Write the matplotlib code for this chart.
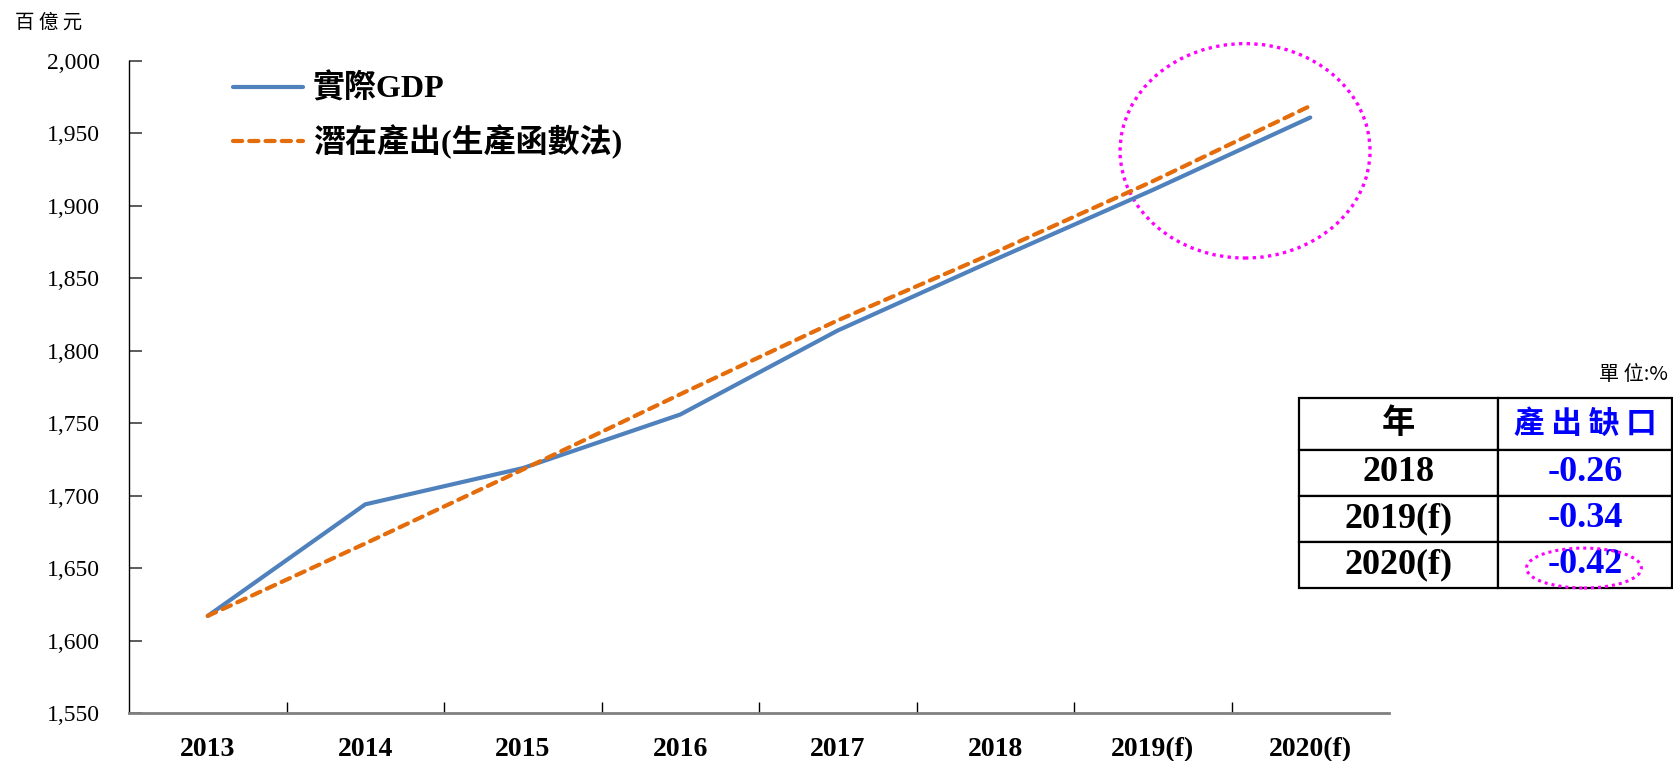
import matplotlib.pyplot as plt
from matplotlib.patches import Ellipse
from matplotlib.ticker import FuncFormatter

years = ["2013", "2014", "2015", "2016", "2017", "2018", "2019(f)", "2020(f)"]
real_gdp = [1617, 1694, 1719, 1756, 1814, 1863, 1911, 1961]
potential = [1617, 1667, 1718, 1770, 1821, 1868, 1917, 1969]

table_years = ["2018", "2019(f)", "2020(f)"]
output_gap = [-0.26, -0.34, -0.42]

BLUE = "#4F81BD"
ORANGE = "#E46C0A"
MAGENTA = "#FF00FF"
SERIF = ["Liberation Serif", "Noto Sans CJK TC"]
CJK = ["Noto Sans CJK TC", "DejaVu Sans"]

W, H = 1673, 761
fig = plt.figure(figsize=(W / 100, H / 100), dpi=100)
ax = fig.add_axes([129 / W, 48 / H, 1260 / W, 652 / H])

x = list(range(len(years)))
ax.plot(x, real_gdp, color=BLUE, lw=3, solid_capstyle="round", label="實際GDP")
ax.plot(x, potential, color=ORANGE, lw=3, dashes=(2.2, 1.7),
        dash_capstyle="round", label="潛在產出(生產函數法)")

ax.set_xlim(-0.5, len(years) - 0.5)
ax.set_ylim(1550, 2000)
ax.set_yticks(range(1550, 2001, 50))
ax.yaxis.set_major_formatter(FuncFormatter(lambda v, _: f"{v:,.0f}"))
ax.tick_params(axis="y", direction="in", length=9, width=1.2, color="#404040",
               pad=21, labelsize=17)
for lab in ax.get_yticklabels():
    lab.set_fontfamily("Liberation Serif")

# category boundaries as ticks, labels at category centres
ax.set_xticks([i + 0.5 for i in x[:-1]])
ax.set_xticklabels([])
ax.set_xticks(x, minor=True)
ax.set_xticklabels(years, minor=True, fontfamily="Liberation Serif",
                   fontweight="bold", fontsize=20)
ax.tick_params(axis="x", which="major", direction="in", length=8, width=1,
               color="#000000")
ax.tick_params(axis="x", which="minor", length=0, pad=17)

ax.spines["top"].set_visible(False)
ax.spines["right"].set_visible(False)
ax.spines["left"].set_linewidth(1.0)
ax.spines["bottom"].set_color("#808080")
ax.spines["bottom"].set_linewidth(2.0)

ax.legend(loc="upper left", bbox_to_anchor=(0.0825, 0.981), frameon=False,
          handlelength=2.2, handletextpad=0.3, labelspacing=0.62,
          borderpad=0, borderaxespad=0,
          prop={"family": SERIF, "weight": "bold", "size": 23})

# highlight around the forecast years
ax.add_patch(Ellipse((6.586, 1938), 1.587, 148, fill=False, ec=MAGENTA, lw=2.4,
                     ls=(0, (1, 1.3)), clip_on=False))

fig.text(15 / W, 1 - 22 / H, "百 億 元", ha="left", va="center", fontsize=14,
         fontfamily=CJK)
fig.text(1668 / W, 1 - 375 / H, "單 位:%", ha="right", va="center", fontsize=14.5,
         fontfamily=CJK)

# output gap table
ax_t = fig.add_axes([1299 / W, (H - 588) / H, 373 / W, 190 / H])
ax_t.axis("off")
cells = [[y, f"{g:.2f}"] for y, g in zip(table_years, output_gap)]
tbl = ax_t.table(cellText=cells, colLabels=["年", "產 出 缺 口"],
                 colWidths=[0.533, 0.467], cellLoc="center", bbox=[0, 0, 1, 1])
tbl.auto_set_font_size(False)
for (r, c), cell in tbl.get_celld().items():
    cell.set_edgecolor("black")
    cell.set_linewidth(1.6)
    cell.set_height(0.272 if r == 0 else 0.243)
    txt = cell.get_text()
    colour = "#0000FF" if c == 1 else "black"
    if r == 0:
        txt.set_fontfamily(CJK)
        txt.set_fontsize(24 if c == 0 else 22)
    else:
        txt.set_fontfamily("Liberation Serif")
        txt.set_fontsize(26)
    txt.set_fontweight("bold")
    txt.set_color(colour)

ax_t.add_patch(Ellipse((0.764, 0.105), 0.308, 0.21, transform=ax_t.transAxes,
                       fill=False, ec=MAGENTA, lw=2.2, ls=(0, (1, 1.3)),
                       clip_on=False))

fig.savefig("out.png", dpi=100)
